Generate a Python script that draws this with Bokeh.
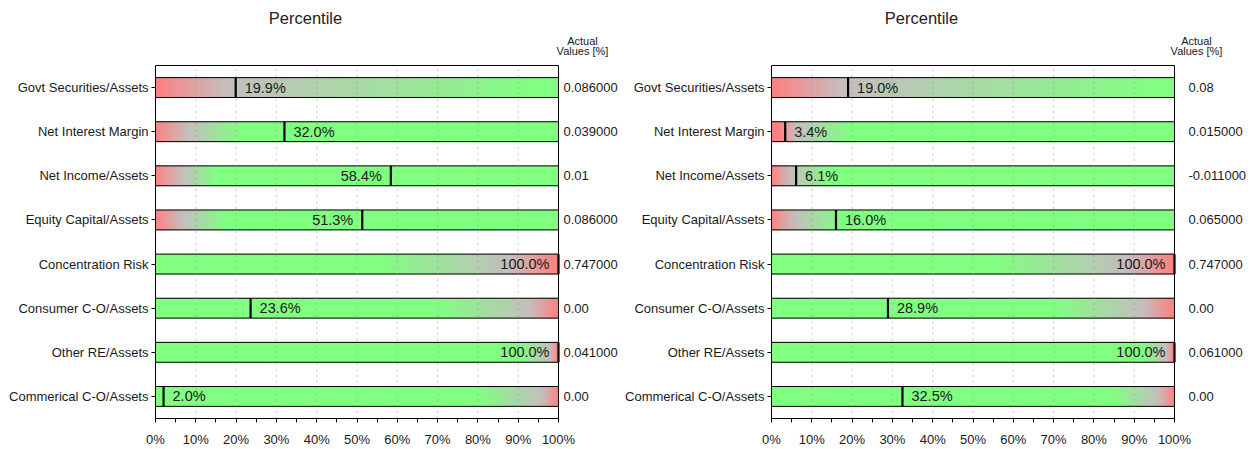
import numpy as np
from bokeh.plotting import figure
from bokeh.layouts import row
from bokeh.models import Range1d, FixedTicker, PrintfTickFormatter
from bokeh.core.properties import value
from bokeh.embed import file_html
from bokeh.resources import INLINE

categories = ["Govt Securities/Assets", "Net Interest Margin", "Net Income/Assets",
              "Equity Capital/Assets", "Concentration Risk", "Consumer C-O/Assets",
              "Other RE/Assets", "Commerical C-O/Assets"]

left_percentiles = [19.9, 32.0, 58.4, 51.3, 100.0, 23.6, 100.0, 2.0]
left_actual = ["0.086000", "0.039000", "0.01", "0.086000", "0.747000", "0.00", "0.041000", "0.00"]
right_percentiles = [19.0, 3.4, 6.1, 16.0, 100.0, 28.9, 100.0, 32.5]
right_actual = ["0.08", "0.015000", "-0.011000", "0.065000", "0.747000", "0.00", "0.061000", "0.00"]

# gradient stops (percent position): where bar is fully red, grey midpoint, fully green
left_red_stop = [0, 0, 0, 0, 100, 100, 100, 100]
left_mid_stop = [18, 8, 7, 7, 88, 93, 98, 96]
left_green_stop = [95, 22, 15, 18, 55, 70, 90, 80]
right_red_stop = [0, 2, 0, 0, 100, 100, 100, 100]
right_mid_stop = [18, 6, 5, 6, 88, 92, 98, 96]
right_green_stop = [95, 20, 15, 18, 55, 70, 92, 85]

x_ticks = list(range(0, 101, 10))
x_minor = list(range(5, 100, 10))

RED = (255, 128, 128)
MID = (196, 190, 190)
GREEN = (128, 255, 128)
FONT = "Liberation Sans"
TXT = "#1a1a1a"

# layout (pixels)
FIG_H = 449
PX_X = 403 / 100.0      # pixels per percent
PX_Y = 353 / 8.0        # pixels per row
PAD = 2                 # frame padding so box lines are not clipped
TOP_SPACE = 65          # space above the box for titles
BORDER_BOTTOM = FIG_H - TOP_SPACE - 353 - PAD


def seg_colors(xs, r, m, g):
    if r < g:
        pos, cols = [r, m, g], [RED, MID, GREEN]
    else:
        pos, cols = [g, m, r], [GREEN, MID, RED]
    out = []
    for x in xs:
        c = [int(round(np.interp(x, pos, [cc[k] for cc in cols]))) for k in range(3)]
        out.append("#%02x%02x%02x" % tuple(c))
    return out


def make_panel(percentiles, actual, reds, mids, greens, val_offset, fig_w, border_left,
               act_dx):
    n = len(categories)
    ys = [n - 1 - i for i in range(n)]
    frame_w = fig_w - border_left
    frame_h = FIG_H - BORDER_BOTTOM
    x0 = -PAD / PX_X
    y0 = -0.5 - PAD / PX_Y
    p = figure(width=fig_w, height=FIG_H, output_backend="svg", toolbar_location=None,
               x_range=Range1d(x0, x0 + frame_w / PX_X),
               y_range=Range1d(y0, y0 + frame_h / PX_Y),
               min_border_left=border_left, min_border_right=0,
               min_border_top=0, min_border_bottom=BORDER_BOTTOM,
               background_fill_color="white", border_fill_color="white")
    p.outline_line_color = None
    p.xgrid.visible = False
    p.ygrid.visible = False

    bh = 0.45
    edges = np.linspace(0, 100, 201)
    L, R, B, T, C = [], [], [], [], []
    for i, y in enumerate(ys):
        cx = (edges[:-1] + edges[1:]) / 2
        cols = seg_colors(cx, reds[i], mids[i], greens[i])
        L += list(edges[:-1]); R += list(edges[1:])
        B += [y - bh / 2] * len(cx); T += [y + bh / 2] * len(cx)
        C += cols
    p.quad(left=L, right=R, bottom=B, top=T, fill_color=C, line_color=C, line_width=1)

    # bar outlines
    p.quad(left=[0] * n, right=[100] * n, bottom=[y - bh / 2 for y in ys],
           top=[y + bh / 2 for y in ys], fill_color=None, line_color="black", line_width=1)

    # dotted vertical grid lines
    gx = x_ticks[1:-1]
    p.segment(x0=gx, x1=gx, y0=[-0.5] * len(gx), y1=[n - 0.5] * len(gx),
              line_color="#8f8f8f", line_dash="1 5", line_width=1)

    # plot box
    p.quad(left=[0], right=[100], bottom=[-0.5], top=[n - 0.5], fill_color=None,
           line_color="black", line_width=1)

    # markers
    p.segment(x0=percentiles, x1=percentiles, y0=[y - bh / 2 for y in ys],
              y1=[y + bh / 2 for y in ys], line_color="black", line_width=2.2)

    # percentile labels
    lab = ["%.1f%%" % v for v in percentiles]
    common = dict(text_font=value(FONT), text_font_size="14.5px", text_color=TXT,
                  text_baseline="middle")
    lo = [i for i, v in enumerate(percentiles) if v <= 50]
    hi = [i for i, v in enumerate(percentiles) if v > 50]
    p.text(x=[percentiles[i] for i in lo], y=[ys[i] for i in lo], text=[lab[i] for i in lo],
           x_offset=9, text_align="left", **common)
    p.text(x=[percentiles[i] for i in hi], y=[ys[i] for i in hi], text=[lab[i] for i in hi],
           x_offset=-9, text_align="right", **common)

    # actual values column
    p.text(x=[100] * n, y=ys, text=actual, x_offset=val_offset, text_align="left",
           text_baseline="middle", text_font=value(FONT), text_font_size="13px",
           text_color=TXT)

    # titles
    p.text(x=[0], y=[n - 0.5], text=["Percentile"], x_offset=150, y_offset=-48,
           text_align="center", text_baseline="middle", text_font=value(FONT),
           text_font_size="16.5px", text_color="#222222")
    p.text(x=[100, 100], y=[n - 0.5, n - 0.5], text=["Actual", "Values [%]"],
           x_offset=act_dx, y_offset=[-25, -15], text_align="center",
           text_baseline="middle", text_font=value(FONT), text_font_size="11px",
           text_color=TXT)

    # axes
    p.xaxis.ticker = FixedTicker(ticks=x_ticks, minor_ticks=x_minor)
    p.xaxis.formatter = PrintfTickFormatter(format="%d%%")
    p.xaxis.major_label_text_font = FONT
    p.xaxis.major_label_text_font_size = "13px"
    p.xaxis.major_label_text_color = TXT
    p.xaxis.major_tick_out = 2
    p.xaxis.major_tick_in = 2
    p.xaxis.minor_tick_out = 2
    p.xaxis.minor_tick_in = 2
    p.xaxis.major_label_standoff = 9
    p.xaxis.axis_line_color = None
    p.xaxis.major_tick_line_color = "black"
    p.xaxis.minor_tick_line_color = "black"

    p.yaxis.ticker = FixedTicker(ticks=ys)
    p.yaxis.major_label_overrides = {y: c for y, c in zip(ys, categories)}
    p.yaxis.major_label_text_font = FONT
    p.yaxis.major_label_text_font_size = "13px"
    p.yaxis.major_label_text_color = TXT
    p.yaxis.major_tick_out = 2
    p.yaxis.major_tick_in = 2
    p.yaxis.minor_tick_line_color = None
    p.yaxis.major_label_standoff = 3
    p.yaxis.axis_line_color = None
    p.yaxis.major_tick_line_color = "black"
    return p


p1 = make_panel(left_percentiles, left_actual, left_red_stop, left_mid_stop, left_green_stop,
                5, 620, 153, 24)
p2 = make_panel(right_percentiles, right_actual, right_red_stop, right_mid_stop,
                right_green_stop, 14, 630, 149, 22)

layout = row(p1, p2)
open("out.html", "w").write(file_html(layout, INLINE))
